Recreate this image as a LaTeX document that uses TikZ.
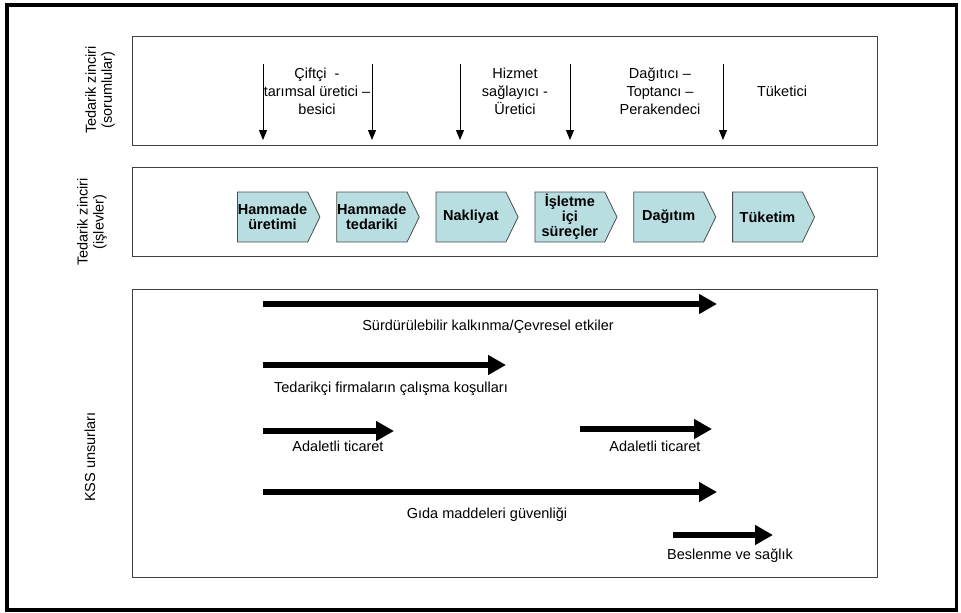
\documentclass[tikz,border=0pt]{standalone}
\usepackage{fontspec}
\setmainfont{Liberation Sans}
\usepackage{xcolor}
\usepackage{tikz}
\usetikzlibrary{shapes.symbols, arrows.meta, positioning}

\definecolor{stagecyan}{RGB}{184,222,226}

\begin{document}
\begin{tikzpicture}[
    x=1pt, y=-1pt,
    node distance=16pt,
    panel/.style={draw=black!75, line width=0.9pt},
    sidelabel/.style={rotate=90, align=center, inner sep=0pt, font=\fontsize{14.5}{16}\selectfont},
    role/.style={align=center, inner sep=0pt, font=\fontsize{14.5}{18}\selectfont},
    stage/.style={signal, signal to=east, signal pointer angle=128, draw=black!70, fill=stagecyan, line width=0.8pt, minimum width=82pt, minimum height=50pt, inner sep=0.5pt, align=center, font=\fontsize{14.5}{15}\selectfont\bfseries},
    darr/.style={-{Triangle[width=8pt,length=10pt]}, line width=0.9pt},
    barr/.style={-{Triangle[width=19pt,length=18pt]}, line width=6.5pt},
    tag/.style={inner sep=0pt, font=\fontsize{14.5}{16}\selectfont}
]
\useasboundingbox (0,0) rectangle (961,613);

% Outer frame and the three panels
\draw[line width=3.5pt] (7,5) rectangle (956.5,610);
\draw[panel] (132,36) rectangle (877,145);
\draw[panel] (132,167) rectangle (877,256);
\draw[panel] (132,289) rectangle (877,577);

% Side labels
\node[sidelabel] (lblroles) at (100,90) {Tedarik zinciri\\(sorumlular)};
\node[sidelabel] (lblfunc) at (92,222) {Tedarik zinciri\\(işlevler)};
\node[sidelabel] (lblkss) at (90,457) {KSS unsurları};

% Top panel: actors
\coordinate (d1a) at (263,64);
\coordinate (d1b) at (263,140);
\coordinate (d2a) at (372,64);
\coordinate (d2b) at (372,140);
\coordinate (d3a) at (460,64);
\coordinate (d3b) at (460,140);
\coordinate (d4a) at (570,64);
\coordinate (d4b) at (570,140);
\coordinate (d5a) at (723,64);
\coordinate (d5b) at (723,140);

\node[role] (farmer) at (317,91) {Çiftçi \ -\\tarımsal üretici –\\besici};
\node[role] (provider) at (515,91) {Hizmet\\sağlayıcı -\\Üretici};
\node[role] (dealer) at (660,91) {Dağıtıcı –\\Toptancı –\\Perakendeci};
\node[role] (consumer) at (782,91) {Tüketici};

\draw[darr] (d1a) -- (d1b);
\draw[darr] (d2a) -- (d2b);
\draw[darr] (d3a) -- (d3b);
\draw[darr] (d4a) -- (d4b);
\draw[darr] (d5a) -- (d5b);

% Middle panel: functions
\node[stage, anchor=west] (s1) at (237,217) {Hammade\\üretimi};
\node[stage, right=of s1] (s2) {Hammade\\tedariki};
\node[stage, right=of s2] (s3) {Nakliyat};
\node[stage, right=of s3] (s4) {İşletme\\içi\\süreçler};
\node[stage, right=of s4] (s5) {Dağıtım};
\node[stage, right=of s5] (s6) {Tüketim};

% Bottom panel: CSR elements
\coordinate (e1a) at (263,304);
\coordinate (e1b) at (717,304);
\coordinate (e2a) at (263,365);
\coordinate (e2b) at (506,365);
\coordinate (e3a) at (263,431);
\coordinate (e3b) at (394,431);
\coordinate (e4a) at (580,429);
\coordinate (e4b) at (712,429);
\coordinate (e5a) at (263,492);
\coordinate (e5b) at (717,492);
\coordinate (e6a) at (673,535);
\coordinate (e6b) at (773,535);

\draw[barr] (e1a) -- (e1b);
\draw[barr] (e2a) -- (e2b);
\draw[barr] (e3a) -- (e3b);
\draw[barr] (e4a) -- (e4b);
\draw[barr] (e5a) -- (e5b);
\draw[barr] (e6a) -- (e6b);

\node[tag] (sustain) at (488,327) {Sürdürülebilir kalkınma/Çevresel etkiler};
\node[tag] (labour) at (391,389) {Tedarikçi firmaların çalışma koşulları};
\node[tag] (fair1) at (338,446) {Adaletli ticaret};
\node[tag] (fair2) at (655,446) {Adaletli ticaret};
\node[tag] (foodsafe) at (487,515) {Gıda maddeleri güvenliği};
\node[tag] (health) at (730,556) {Beslenme ve sağlık};

\end{tikzpicture}
\end{document}
